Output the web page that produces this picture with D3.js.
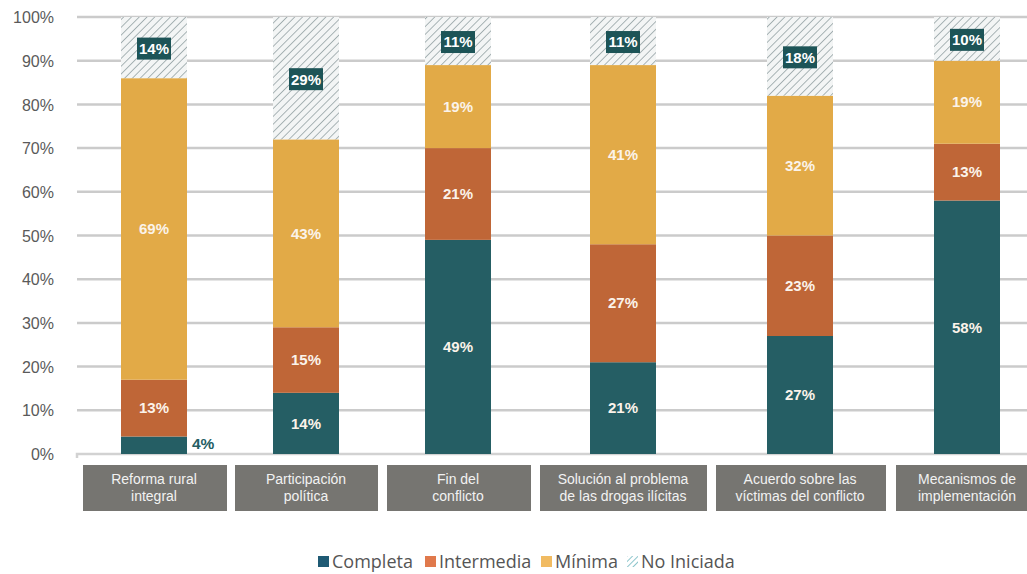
<!DOCTYPE html>
<html><head><meta charset="utf-8">
<script src="https://cdn.jsdelivr.net/npm/d3@7"></script>
<style>
html,body{margin:0;padding:0;background:#fff;}
svg{display:block;}
</style></head>
<body>
<svg id="chart" width="1027" height="574"></svg>
<script>
const categories = [
  ["Reforma rural", "integral"],
  ["Participación", "política"],
  ["Fin del", "conflicto"],
  ["Solución al problema", "de las drogas ilícitas"],
  ["Acuerdo sobre las", "víctimas del conflicto"],
  ["Mecanismos de", "implementación"]
];
const completa   = [4, 14, 49, 21, 27, 58];
const intermedia = [13, 15, 21, 27, 23, 13];
const minima     = [69, 43, 19, 41, 32, 19];
const noIniciada = [14, 29, 11, 11, 18, 10];
const seriesNames = ["Completa", "Intermedia", "Mínima", "No Iniciada"];
const yTicks = [0,10,20,30,40,50,60,70,80,90,100];

const colors = {"Completa":"#255e64","Intermedia":"#bf6637","Mínima":"#e2aa47"};
const legendColors = {"Completa":"#1f5a74","Intermedia":"#e0794c","Mínima":"#f1bb62"};

const svg = d3.select("#chart");
const defs = svg.append("defs");
const pat = defs.append("pattern").attr("id","hatch").attr("patternUnits","userSpaceOnUse")
  .attr("width",5.5).attr("height",5.5).attr("patternTransform","rotate(45)");
pat.append("rect").attr("width",5.5).attr("height",5.5).attr("fill","#f3f5f5");
pat.append("line").attr("x1",0).attr("y1",0).attr("x2",0).attr("y2",5.5)
  .attr("stroke","#6c7f82").attr("stroke-width",1.1);
const pat2 = defs.append("pattern").attr("id","hatchLeg").attr("patternUnits","userSpaceOnUse")
  .attr("width",4).attr("height",4).attr("patternTransform","rotate(45)");
pat2.append("rect").attr("width",4).attr("height",4).attr("fill","#fff");
pat2.append("line").attr("x1",0).attr("y1",0).attr("x2",0).attr("y2",4)
  .attr("stroke","#6fb6bf").attr("stroke-width",1.6);

const y = d3.scaleLinear().domain([0,100]).range([454,17]);
const keys = categories.map(c => c.join(" "));
const x = d3.scaleOrdinal().domain(keys).range([154, 306, 458, 623, 800, 967]);
const boxX = d3.scaleOrdinal().domain(keys).range([[83,227],[235,378],[387,531],[540,707],[716,886],[896,1040]]);
const barW = 66;

// gridlines
svg.append("g").selectAll("line").data(yTicks.filter(d=>d>0)).join("line")
  .attr("x1",77).attr("x2",1027).attr("y1",d=>y(d)).attr("y2",d=>y(d))
  .attr("stroke","#cbcbcb").attr("stroke-width",2.5);
// baseline
svg.append("path").attr("d",`M77,${y(0)+4}V${y(0)}H1027`).attr("fill","none")
  .attr("stroke","#d2d2d2").attr("stroke-width",2.5);

// y axis labels
const yAxis = d3.axisLeft(y).tickValues(yTicks).tickFormat(d=>d+"%").tickSize(0).tickPadding(0);
const ya = svg.append("g").attr("transform","translate(54,0)").call(yAxis);
ya.select(".domain").remove();
ya.selectAll("text").attr("font-family","Liberation Sans, Arial, sans-serif")
  .attr("font-size",16).attr("fill","#5a5a5a").attr("dy","0.35em");

// stacks
const rows = keys.map((k,i)=>({key:k, "Completa":completa[i], "Intermedia":intermedia[i], "Mínima":minima[i], "No Iniciada":noIniciada[i]}));
const stack = d3.stack().keys(["Completa","Intermedia","Mínima"])(rows);

const bars = svg.append("g");
stack.forEach(s=>{
  bars.selectAll(null).data(s).join("rect")
    .attr("x",d=>x(d.data.key)-barW/2).attr("width",barW)
    .attr("y",d=>y(d[1])).attr("height",d=>y(d[0])-y(d[1]))
    .attr("fill",colors[s.key]);
});
// hatched (No Iniciada) from stack top up to 100
const top3 = stack[2];
bars.selectAll(null).data(top3).join("rect")
  .attr("x",d=>x(d.data.key)-barW/2).attr("width",barW)
  .attr("y",y(100)).attr("height",d=>y(d[1])-y(100))
  .attr("fill","url(#hatch)");

// segment labels
const lblFont = "Liberation Sans, Arial, sans-serif";
stack.forEach(s=>{
  s.forEach(d=>{
    const v = d.data[s.key];
    const cx = x(d.data.key), cy = y((d[0]+d[1])/2);
    if (v < 8) {
      svg.append("text").attr("x",cx+barW/2+5).attr("y",y(d[0])-10).attr("dy","0.35em")
        .attr("font-family",lblFont).attr("font-weight","bold").attr("font-size",15.5)
        .attr("fill",colors[s.key]).text(v+"%");
    } else {
      svg.append("text").attr("x",cx).attr("y",cy).attr("dy","0.35em").attr("text-anchor","middle")
        .attr("font-family",lblFont).attr("font-weight","bold").attr("font-size",15)
        .attr("fill","#fbf3ea").text(v+"%");
    }
  });
});
// No Iniciada labels in boxes
top3.forEach(d=>{
  const v = d.data["No Iniciada"];
  const cx = x(d.data.key), cy = y((d[1]+100)/2) + 1;
  svg.append("rect").attr("x",cx-17).attr("y",cy-11).attr("width",34).attr("height",22).attr("fill","#1d5457");
  svg.append("text").attr("x",cx).attr("y",cy).attr("dy","0.36em").attr("text-anchor","middle")
    .attr("font-family",lblFont).attr("font-weight","bold").attr("font-size",15)
    .attr("fill","#ffffff").text(v+"%");
});

// category boxes
const cg = svg.append("g");
keys.forEach((k,i)=>{
  const [x0,x1] = boxX(k);
  cg.append("rect").attr("x",x0).attr("y",465).attr("width",x1-x0).attr("height",46).attr("fill","#767571");
  const cxText = x(k);
  const t = cg.append("text").attr("text-anchor","middle").attr("font-family",lblFont)
    .attr("font-size",14).attr("fill","#f2f2f2");
  t.append("tspan").attr("x",cxText).attr("y",484).text(categories[i][0]);
  t.append("tspan").attr("x",cxText).attr("y",501).text(categories[i][1]);
});

// legend
const legX = [318, 425, 541, 627];
const leg = svg.append("g");
seriesNames.forEach((n,i)=>{
  leg.append("rect").attr("x",legX[i]).attr("y",556).attr("width",11).attr("height",11)
    .attr("fill", n==="No Iniciada" ? "url(#hatchLeg)" : legendColors[n]);
  leg.append("text").attr("x",legX[i]+14).attr("y",562).attr("dy","0.36em")
    .attr("font-family","Open Sans, sans-serif").attr("font-size",18).attr("fill","#555")
    .text(n);
});
</script>
</body></html>
